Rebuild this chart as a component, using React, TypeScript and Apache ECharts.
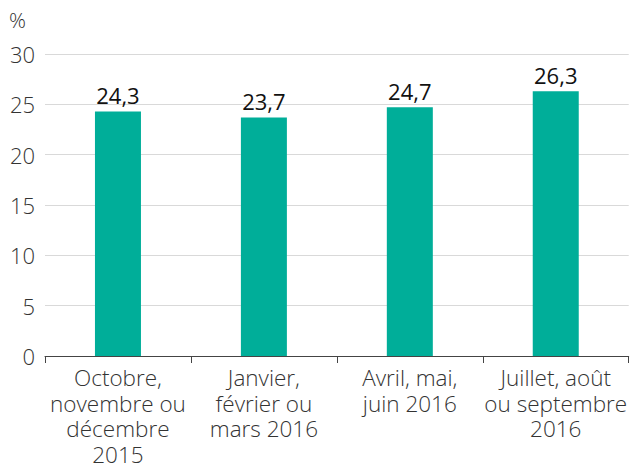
import React, { useEffect, useRef } from "react";
import * as echarts from "echarts";

const categories = [
  "Octobre,\nnovembre ou\ndécembre\n2015",
  "Janvier,\nfévrier ou\nmars 2016",
  "Avril, mai,\njuin 2016",
  "Juillet, août\nou septembre\n2016",
];
const values = [24.3, 23.7, 24.7, 26.3];
const unitLabel = "%";

export default function App() {
  const ref = useRef<HTMLDivElement>(null);
  useEffect(() => {
    document.body.style.margin = "0";
    const chart = echarts.init(ref.current!, null, { renderer: "svg" });
    const font = "'Open Sans', sans-serif";
    chart.setOption({
      animation: false,
      backgroundColor: "#ffffff",
      textStyle: { fontFamily: font },
      grid: { left: 45, right: 0, top: 54, bottom: 111, containLabel: false },
      graphic: [
        {
          type: "text",
          left: 9,
          top: 9,
          style: { text: unitLabel, fontSize: 21, fontFamily: font, fontWeight: 300, fill: "#333" },
        },
      ],
      xAxis: {
        type: "category",
        data: categories,
        axisLine: { lineStyle: { color: "#444", width: 1 } },
        axisTick: { show: true, length: 7, lineStyle: { color: "#444" }, alignWithLabel: false },
        axisLabel: {
          interval: 0,
          color: "#333",
          fontSize: 22.5,
          lineHeight: 25.5,
          fontFamily: font,
          fontWeight: 300,
          margin: 9,
        },
      },
      yAxis: {
        type: "value",
        min: 0,
        max: 30,
        interval: 5,
        axisLine: { show: false },
        axisTick: { show: false },
        splitLine: { lineStyle: { color: "#d9d9d9", width: 1 } },
        axisLabel: { color: "#333", fontSize: 22, fontFamily: font, fontWeight: 300, margin: 10 },
      },
      series: [
        {
          type: "bar",
          data: values,
          barWidth: 46,
          itemStyle: { color: "#00ae99" },
          label: {
            show: true,
            position: "top",
            distance: 5,
            color: "#111",
            fontSize: 22,
            fontFamily: font,
            fontWeight: 400,
            formatter: (p: any) => String(p.value).replace(".", ","),
          },
        },
      ],
    });
    return () => chart.dispose();
  }, []);
  return <div ref={ref} style={{ width: 630, height: 467 }} />;
}
